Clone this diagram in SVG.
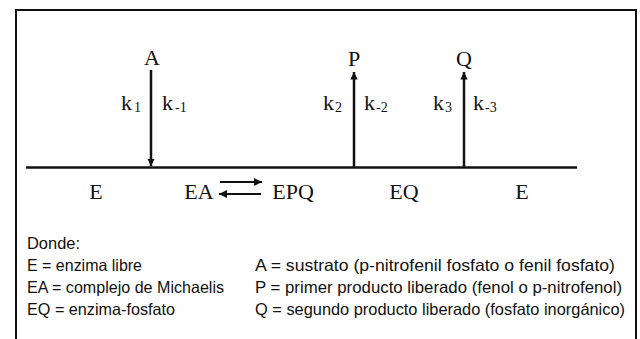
<svg xmlns="http://www.w3.org/2000/svg" width="640" height="339" viewBox="0 0 640 339">
<style>
.t{font-family:"Liberation Serif","Times New Roman",serif;font-size:22px;fill:#111}
.s{font-size:14px}
.l{font-family:"Liberation Sans Narrow","Arial Narrow","Liberation Sans",Arial,sans-serif;font-size:16.5px;fill:#111}
.ln{stroke:#111;stroke-width:2.5;fill:none}
.eq{stroke:#111;stroke-width:2;fill:none}
</style>
<defs>
<marker id="ah" viewBox="0 0 10 10" refX="10" refY="5" markerWidth="3" markerHeight="3.2" orient="auto" markerUnits="strokeWidth">
<path d="M0,0 L10,5 L0,10 Z" fill="#111"/>
</marker>
<marker id="ah2" viewBox="0 0 10 10" refX="10" refY="5" markerWidth="4" markerHeight="4" orient="auto" markerUnits="strokeWidth">
<path d="M0,0 L10,5 L0,10 Z" fill="#111"/>
</marker>
</defs>
<rect x="16" y="10" width="620" height="400" fill="#fff" stroke="#111" stroke-width="2"/>
<g id="connectors">
<line class="ln" x1="26" y1="167.5" x2="577" y2="167.5"/>
<line class="ln" x1="151" y1="70" x2="151" y2="166" marker-end="url(#ah)"/>
<line class="ln" x1="354" y1="167" x2="354" y2="72" marker-end="url(#ah)"/>
<line class="ln" x1="464" y1="167" x2="464" y2="72" marker-end="url(#ah)"/>
<line class="eq" x1="220" y1="182" x2="262" y2="182" marker-end="url(#ah2)"/>
<line class="eq" x1="261" y1="194" x2="219" y2="194" marker-end="url(#ah2)"/>
</g>
<g id="node-A"><text class="t" x="152" y="65" text-anchor="middle">A</text></g>
<g id="node-P"><text class="t" x="354" y="66" text-anchor="middle">P</text></g>
<g id="node-Q"><text class="t" x="464" y="66" text-anchor="middle">Q</text></g>
<g id="rate-k1">
<text class="t" x="121" y="110">k<tspan class="s" dx="2" dy="2">1</tspan></text>
<text class="t" x="162" y="110">k<tspan class="s" dx="2" dy="2">-1</tspan></text>
</g>
<g id="rate-k2">
<text class="t" x="323" y="110">k<tspan class="s" dx="1" dy="2">2</tspan></text>
<text class="t" x="364" y="110">k<tspan class="s" dx="1" dy="2">-2</tspan></text>
</g>
<g id="rate-k3">
<text class="t" x="433" y="110">k<tspan class="s" dx="1" dy="2">3</tspan></text>
<text class="t" x="473" y="110">k<tspan class="s" dx="1" dy="2">-3</tspan></text>
</g>
<g id="node-E1"><text class="t" x="96" y="199" text-anchor="middle">E</text></g>
<g id="node-EA"><text class="t" x="199" y="199" text-anchor="middle">EA</text></g>
<g id="node-EPQ"><text class="t" x="293" y="199" text-anchor="middle">EPQ</text></g>
<g id="node-EQ"><text class="t" x="404" y="199" text-anchor="middle">EQ</text></g>
<g id="node-E2"><text class="t" x="522" y="199" text-anchor="middle">E</text></g>
<g id="legend">
<text class="l" x="27" y="249" textLength="53" lengthAdjust="spacingAndGlyphs">Donde:</text>
<text class="l" x="27" y="271" textLength="115" lengthAdjust="spacingAndGlyphs">E = enzima libre</text>
<text class="l" x="27" y="293" textLength="197" lengthAdjust="spacingAndGlyphs">EA = complejo de Michaelis</text>
<text class="l" x="27" y="315" textLength="148" lengthAdjust="spacingAndGlyphs">EQ = enzima-fosfato</text>
<text class="l" x="255" y="271" textLength="360" lengthAdjust="spacingAndGlyphs">A = sustrato (p-nitrofenil fosfato o fenil fosfato)</text>
<text class="l" x="255" y="293" textLength="367" lengthAdjust="spacingAndGlyphs">P = primer producto liberado (fenol o p-nitrofenol)</text>
<text class="l" x="255" y="315" textLength="370" lengthAdjust="spacingAndGlyphs">Q = segundo producto liberado (fosfato inorgánico)</text>
</g>
</svg>
